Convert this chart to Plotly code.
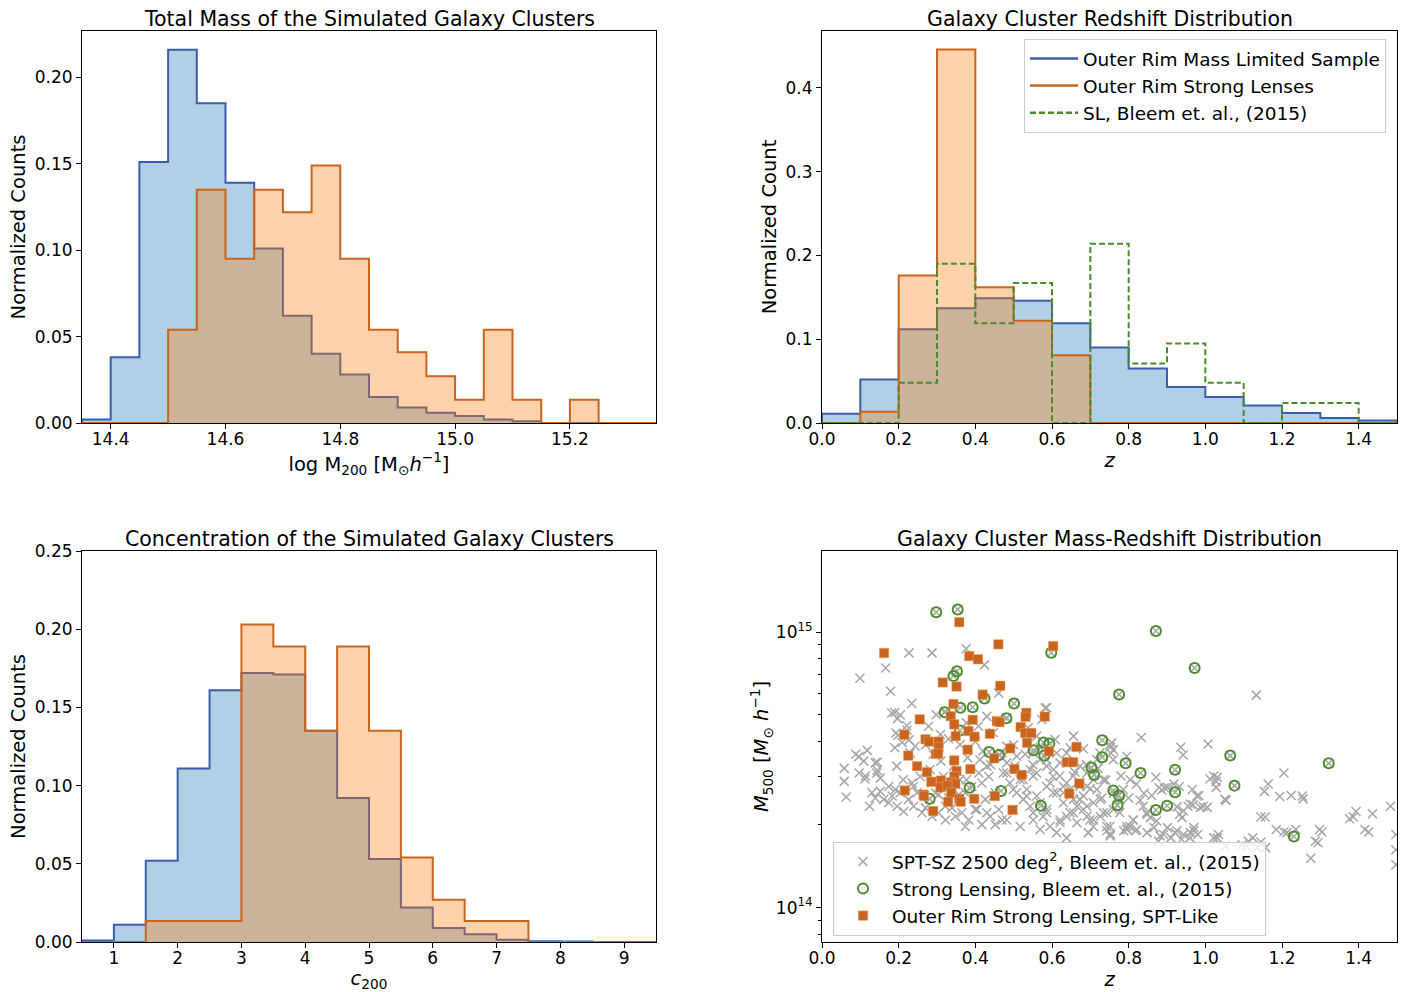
import plotly.graph_objects as go

# ---------------- data ----------------
mass_edges = [14.35, 14.40, 14.45, 14.50, 14.55, 14.60, 14.65, 14.70, 14.75, 14.80, 14.85,
              14.90, 14.95, 15.00, 15.05, 15.10, 15.15, 15.20, 15.25, 15.30, 15.35]
mass_outer_rim = [0.002, 0.038, 0.151, 0.216, 0.185, 0.139, 0.101, 0.062, 0.040, 0.028,
                  0.015, 0.009, 0.006, 0.004, 0.002, 0.001, 0.0, 0.0, 0.0, 0.0]
mass_strong = [0.0, 0.0, 0.0, 0.054, 0.135, 0.095, 0.135, 0.122, 0.149, 0.095,
               0.054, 0.041, 0.027, 0.0135, 0.054, 0.0135, 0.0, 0.0135, 0.0, 0.0]

z_edges = [0.0, 0.1, 0.2, 0.3, 0.4, 0.5, 0.6, 0.7, 0.8, 0.9, 1.0, 1.1, 1.2, 1.3, 1.4, 1.5]
z_outer_rim = [0.011, 0.052, 0.112, 0.137, 0.149, 0.146, 0.119, 0.090, 0.065, 0.043,
               0.031, 0.021, 0.012, 0.006, 0.003]
z_strong = [0.0, 0.0135, 0.176, 0.446, 0.162, 0.122, 0.081, 0.0, 0.0, 0.0, 0.0, 0.0, 0.0, 0.0, 0.0]
z_bleem = [0.0, 0.0, 0.048, 0.190, 0.119, 0.167, 0.0, 0.214, 0.071, 0.095, 0.048, 0.0, 0.024, 0.024, 0.0]

c_edges = [0.5, 1.0, 1.5, 2.0, 2.5, 3.0, 3.5, 4.0, 4.5, 5.0, 5.5, 6.0, 6.5, 7.0, 7.5, 8.0, 8.5, 9.0, 9.5]
c_outer_rim = [0.001, 0.011, 0.052, 0.111, 0.161, 0.172, 0.171, 0.135, 0.092, 0.053,
               0.022, 0.009, 0.005, 0.0015, 0.0005, 0.0003, 0.0, 0.0]
c_strong = [0.0, 0.0, 0.0135, 0.0135, 0.0135, 0.203, 0.189, 0.135, 0.189, 0.135,
            0.054, 0.027, 0.0135, 0.0135, 0.0, 0.0, 0.0, 0.0]

# SPT-SZ clusters (not strong lenses): redshift and M500 in 1e14 Msun/h
spt_z = [0.227, 0.287, 0.376, 0.424, 0.166, 0.099, 0.179, 0.234, 0.461, 0.582, 1.133,
         0.182, 0.190, 0.197, 0.204, 0.193, 0.190, 0.222, 0.227, 0.058, 0.058, 0.063, 0.088,
         0.096, 0.118, 0.097, 0.112, 0.144, 0.144, 0.152, 0.124, 0.198, 0.209, 0.243, 0.221,
         0.278, 0.298, 0.309, 0.321, 0.377, 0.408, 0.430, 0.482, 0.573, 0.586, 0.447, 0.469,
         0.608, 0.656, 0.195, 0.230, 0.317, 0.343, 0.360, 0.412, 0.430, 0.482, 0.503, 0.525,
         0.560, 0.586, 0.603, 0.638, 0.725, 0.751, 0.760, 0.804, 0.786, 0.603, 0.638, 0.447,
         0.404, 0.430, 0.212, 0.238, 0.204, 0.256, 0.282, 0.377, 0.391, 0.499, 0.534, 0.551,
         0.586, 0.621, 0.656, 0.691, 0.708, 0.734, 0.751, 0.777, 0.795, 0.812, 0.673, 0.691,
         0.708, 0.586, 0.621, 0.630, 0.656, 0.682, 0.756, 0.760, 0.647, 0.560, 0.538, 0.482,
         0.795,
         0.113, 0.109, 0.139, 0.143, 0.130, 0.152, 0.161, 0.174, 0.183, 0.196, 0.213, 0.226,
         0.235, 0.239, 0.248, 0.261, 0.270, 0.287, 0.296, 0.304, 0.322, 0.339, 0.348, 0.365,
         0.374, 0.383, 0.400, 0.409, 0.417, 0.426, 0.435, 0.439, 0.452, 0.461, 0.470, 0.374,
         0.417, 0.452, 0.174, 0.191, 0.139, 0.304, 0.330, 0.357, 0.287, 0.322,
         0.473, 0.490, 0.517, 0.534, 0.551, 0.560, 0.586, 0.595, 0.604, 0.612, 0.630, 0.638,
         0.647, 0.656, 0.665, 0.673, 0.682, 0.691, 0.699, 0.708, 0.717, 0.726, 0.743, 0.760,
         0.778, 0.795, 0.812, 0.821, 0.838, 0.847, 0.638, 0.569, 0.517, 0.499, 0.482, 0.551,
         0.595, 0.612, 0.752, 0.695, 0.569, 0.612, 0.551, 0.508, 0.482,
         0.525, 0.543, 0.577, 0.621, 0.647, 0.673, 0.682, 0.708, 0.726, 0.734, 0.743, 0.691,
         0.665, 0.630, 0.586, 0.569, 0.508, 0.543, 0.638, 0.673, 0.699, 0.717,
         0.27, 0.29, 0.31, 0.33, 0.36, 0.38, 0.40, 0.42, 0.44, 0.47, 0.50, 0.53, 0.55, 0.57,
         0.62, 0.66, 0.70, 0.72, 0.74, 0.76, 0.78, 0.80, 0.82, 0.84, 0.69, 0.73, 0.77, 0.83, 0.86,
         0.936, 0.942, 1.007, 1.205, 0.871, 0.886, 0.901, 0.932, 1.012, 1.031, 1.028, 1.054,
         0.983, 0.968, 0.987, 1.005, 1.154, 1.164, 1.194, 1.224, 1.255, 1.145, 1.156, 1.205,
         1.304, 1.294, 1.275, 1.376, 1.386, 1.436, 1.426, 1.483, 1.497, 1.497, 1.497, 1.031,
         1.053, 1.112, 1.145, 0.970, 0.960, 0.980, 0.970, 0.933, 0.939, 0.943, 0.873, 0.891,
         0.878, 0.926, 0.943, 0.961, 0.926,
         0.833, 0.752, 0.754, 0.918, 0.848, 0.857, 0.787, 0.796, 0.818, 0.743, 0.752, 0.866,
         0.901, 0.803, 0.848, 0.882, 0.910, 0.921, 0.938, 0.961, 1.022, 1.034, 1.096, 1.107,
         1.124, 1.135, 1.157, 1.185, 1.213, 1.236, 1.253, 1.287, 1.298, 1.393, 1.416, 1.022,
         1.028, 0.966, 0.879, 0.893, 0.955, 0.978, 0.994, 1.051]
spt_m = [8.4, 8.4, 8.7, 7.6, 7.4, 6.8, 6.1, 5.5, 6.0, 5.3, 5.9,
         5.08, 5.1, 4.85, 5.0, 4.3, 3.8, 4.4, 4.06, 3.2, 2.87, 2.52, 3.6,
         3.53, 3.72, 3.08, 2.93, 3.37, 3.15, 2.95, 2.33, 4.22, 3.97, 3.85, 4.57,
         4.55, 5.01, 4.25, 5.15, 4.68, 4.55, 4.94, 4.88, 4.81, 5.31, 4.31, 3.64,
         4.07, 4.19, 3.26, 3.64, 2.99, 3.26, 2.91, 3.44, 3.26, 3.08, 3.26, 2.91,
         3.08, 3.26, 2.99, 3.64, 3.64, 3.90, 3.44, 2.91, 2.68, 2.61, 2.83, 2.54,
         2.27, 2.21, 2.91, 2.75, 2.61, 2.99, 3.17, 2.91, 2.75, 2.68, 2.54, 2.21,
         2.21, 2.08, 2.21, 2.33, 2.08, 2.21, 1.97, 2.21, 1.97, 2.08, 2.75, 3.08,
         2.91, 3.44, 3.35, 2.61, 2.47, 3.77, 3.96, 3.74, 3.80, 4.19, 4.49, 3.85,
         3.54,
         3.00, 3.40, 3.35, 3.08, 2.61, 2.64, 2.47, 2.40, 2.54, 2.33, 2.23, 2.47,
         2.83, 2.33, 2.61, 2.21, 2.30, 2.83, 2.61, 2.21, 2.33, 2.30, 2.14, 2.21,
         2.61, 2.08, 2.27, 3.08, 2.83, 2.47, 2.99, 2.14, 2.61, 2.27, 2.08, 1.97,
         2.00, 2.00, 2.75, 2.68, 2.50, 2.57, 2.50, 2.57, 2.14, 2.08,
         3.08, 2.83, 2.91, 2.68, 3.00, 2.54, 2.27, 2.83, 3.17, 2.61, 2.40, 2.14,
         2.68, 3.00, 2.03, 2.47, 2.27, 2.75, 2.08, 2.40, 2.68, 2.14, 1.97, 2.27,
         2.47, 1.92, 2.08, 1.92, 2.33, 2.21, 1.79, 1.92, 1.97, 2.27, 2.08, 2.08,
         1.97, 1.87, 1.82, 1.87, 3.44, 3.64, 3.64, 3.54, 3.35,
         2.47, 2.33, 2.14, 2.03, 2.21, 2.83, 2.54, 1.97, 2.47, 2.91, 2.21, 2.14,
         2.33, 2.75, 2.75, 2.40, 2.61, 3.17, 3.35, 3.26, 3.17, 3.44,
         3.9, 3.6, 3.4, 4.1, 3.9, 3.5, 4.0, 3.7, 3.3, 3.5, 3.9, 3.6, 3.3, 3.8,
         3.0, 3.1, 2.7, 3.2, 2.9, 2.6, 3.0, 2.5, 2.8, 2.6, 3.3, 2.5, 2.35, 2.45, 2.55,
         3.82, 3.58, 3.92, 3.08, 2.97, 2.67, 2.73, 2.75, 2.93, 2.97, 2.73, 2.45,
         2.55, 2.36, 2.31, 2.31, 2.64, 2.81, 2.53, 2.55, 2.48, 2.13, 2.13, 1.88,
         1.88, 1.72, 1.51, 2.10, 2.13, 2.19, 1.88, 2.33, 1.84, 1.62, 1.43, 1.79,
         1.67, 1.74, 1.73, 1.90, 1.79, 1.84, 1.95, 2.18, 2.12, 2.24, 2.06, 1.84,
         1.74, 1.90, 1.84, 2.37, 2.32,
         4.14, 3.82, 3.63, 2.81, 2.18, 2.12, 1.90, 1.92, 1.90, 1.90, 1.85, 1.95,
         1.95, 1.97, 1.87, 1.82, 1.79, 1.87, 1.77, 1.87, 1.79, 1.84, 1.69, 1.67,
         1.79, 1.65, 1.65, 1.92, 1.87, 1.92, 2.54, 1.74, 1.92, 2.23, 1.92, 3.0,
         2.87, 2.68, 2.72, 2.72, 2.33, 2.54, 2.33, 2.47]

# Strong-lensing SPT-SZ clusters (Bleem et al. 2015)
sl_z = [0.298, 0.354, 0.871, 0.598, 0.972, 0.352, 0.343, 0.775, 0.424, 0.501, 0.320,
        0.361, 0.393, 0.481, 0.360, 0.578, 0.593, 0.436, 0.462, 0.552, 0.580, 0.731,
        0.731, 0.703, 0.710, 0.792, 0.831, 0.921, 0.921, 0.760, 0.775, 0.771, 0.871,
        0.900, 1.065, 1.076, 1.322, 1.231, 0.385, 0.467, 0.571, 0.281]
sl_m = [11.8, 12.08, 10.09, 8.41, 7.40, 7.21, 6.92, 5.93, 5.74, 5.50, 5.11,
        5.31, 5.33, 4.86, 4.39, 3.97, 3.94, 3.67, 3.58, 3.72, 3.56, 4.05,
        3.51, 3.22, 3.03, 3.34, 3.08, 3.16, 2.62, 2.66, 2.55, 2.35, 2.26,
        2.34, 3.56, 2.77, 3.34, 1.81, 2.72, 2.65, 2.34, 2.48]

# Outer Rim simulated strong lenses, SPT-like
or_z = [0.162, 0.358, 0.460, 0.603, 0.384, 0.407, 0.315, 0.351, 0.465, 0.419, 0.343,
        0.533, 0.531, 0.581, 0.255, 0.336, 0.393, 0.456, 0.463, 0.345, 0.518, 0.215,
        0.270, 0.279, 0.304, 0.304, 0.382, 0.398, 0.349, 0.438, 0.530, 0.546, 0.535,
        0.491, 0.380, 0.592, 0.664, 0.225, 0.297, 0.303, 0.345, 0.449, 0.639, 0.655,
        0.248, 0.274, 0.351, 0.387, 0.502, 0.521, 0.345, 0.310, 0.337, 0.348, 0.216,
        0.309, 0.327, 0.265, 0.266, 0.337, 0.671, 0.645, 0.451, 0.329, 0.358, 0.362,
        0.397, 0.290, 0.497, 0.285]
or_m = [8.39, 10.86, 9.02, 8.89, 8.18, 7.96, 6.56, 6.34, 6.38, 5.93, 5.48,
        5.09, 4.92, 4.93, 4.82, 4.95, 4.80, 4.75, 4.71, 4.62, 4.52, 4.24,
        4.08, 4.00, 4.00, 3.82, 4.37, 4.17, 4.19, 4.27, 4.30, 4.30, 3.96,
        3.78, 3.74, 3.69, 3.83, 3.56, 3.61, 3.62, 3.42, 3.48, 3.37, 3.37,
        3.26, 3.10, 3.13, 3.18, 3.18, 3.03, 2.99, 2.89, 2.85, 2.81, 2.66,
        2.73, 2.77, 2.57, 2.54, 2.61, 2.82, 2.59, 2.54, 2.42, 2.48, 2.42,
        2.48, 2.24, 2.26, 2.86]

# ---------------- styles ----------------
FONT = "DejaVu Sans"
BLUE_EDGE = "#3d5da8"
BLUE_FILL = "rgba(31,119,180,0.35)"
OR_EDGE = "#c9651f"
OR_FILL = "rgba(255,127,14,0.35)"
GREEN = "#4a8c2a"
GRAY = "#a6a6a6"

XD_L = [82 / 1416, 656 / 1416]
XD_R = [822 / 1416, 1397 / 1416]
YD_T = [1 - 423 / 992, 1 - 31 / 992]
YD_B = [1 - 942 / 992, 1 - 551 / 992]


def step_outline(edges, vals):
    xs, ys = [edges[0]], [0.0]
    for i, v in enumerate(vals):
        xs += [edges[i], edges[i + 1]]
        ys += [v, v]
    xs.append(edges[-1])
    ys.append(0.0)
    return xs, ys


fig = go.Figure()


def add_hist(edges, vals, xa, ya, edge, fill, dash=None, filled=True):
    xs, ys = step_outline(edges, vals)
    fig.add_trace(go.Scatter(x=xs, y=ys, xaxis=xa, yaxis=ya, mode="lines",
                             fill="toself" if filled else "none",
                             fillcolor=fill if filled else None,
                             line=dict(color=edge, width=2, dash=dash),
                             showlegend=False, hoverinfo="skip"))


add_hist(mass_edges, mass_outer_rim, "x", "y", BLUE_EDGE, BLUE_FILL)
add_hist(mass_edges, mass_strong, "x", "y", OR_EDGE, OR_FILL)

add_hist(z_edges, z_outer_rim, "x2", "y2", BLUE_EDGE, BLUE_FILL)
add_hist(z_edges, z_strong, "x2", "y2", OR_EDGE, OR_FILL)
add_hist(z_edges, z_bleem, "x2", "y2", GREEN, None, dash="6px,3px", filled=False)

add_hist(c_edges, c_outer_rim, "x3", "y3", BLUE_EDGE, BLUE_FILL)
add_hist(c_edges, c_strong, "x3", "y3", OR_EDGE, OR_FILL)

# legend entries for the redshift panel
for name, col, dash in [("Outer Rim Mass Limited Sample", BLUE_EDGE, None),
                        ("Outer Rim Strong Lenses", OR_EDGE, None),
                        ("SL, Bleem et. al., (2015)", GREEN, "6px,3px")]:
    fig.add_trace(go.Scatter(x=[None], y=[None], xaxis="x2", yaxis="y2", mode="lines",
                             name=name, line=dict(color=col, width=2.5, dash=dash),
                             legend="legend"))

# scatter panel
all_spt_z = spt_z + sl_z
all_spt_m = spt_m + sl_m
fig.add_trace(go.Scatter(x=all_spt_z, y=[m * 1e14 for m in all_spt_m], xaxis="x4", yaxis="y4",
                         mode="markers", name="SPT-SZ 2500 deg<sup>2</sup>, Bleem et. al., (2015)",
                         marker=dict(symbol="x-thin", size=9, line=dict(color=GRAY, width=1.5),
                                     color=GRAY),
                         legend="legend2"))
fig.add_trace(go.Scatter(x=sl_z, y=[m * 1e14 for m in sl_m], xaxis="x4", yaxis="y4",
                         mode="markers", name="Strong Lensing, Bleem et. al., (2015)",
                         marker=dict(symbol="circle-open", size=10, color=GREEN,
                                     line=dict(color=GREEN, width=2)),
                         legend="legend2"))
fig.add_trace(go.Scatter(x=or_z, y=[m * 1e14 for m in or_m], xaxis="x4", yaxis="y4",
                         mode="markers", name="Outer Rim Strong Lensing, SPT-Like",
                         marker=dict(symbol="square", size=9.5, color=OR_EDGE,
                                     line=dict(color="rgba(240,170,120,0.8)", width=0.6)),
                         legend="legend2"))

axis_common = dict(showline=True, linecolor="black", linewidth=1, mirror=True,
                   ticks="outside", ticklen=5, tickwidth=1, tickcolor="black",
                   showgrid=False, zeroline=False, automargin=False,
                   tickfont=dict(family=FONT, size=17, color="black"))
xaxis_common = dict(axis_common, ticklabelstandoff=-4)
title_font = dict(family=FONT, size=19.5, color="black")

fig.update_layout(
    width=1416, height=992, margin=dict(l=0, r=0, t=0, b=0, autoexpand=False),
    paper_bgcolor="white", plot_bgcolor="white",
    font=dict(family=FONT, color="black"),
    xaxis=dict(xaxis_common, domain=XD_L, anchor="y", range=[14.35, 15.35],
               tick0=14.4, dtick=0.2, tickformat=".1f",
               title=dict(text="log M<sub>200</sub> [M<sub>⊙</sub><i>h</i><sup>−1</sup>]",
                          font=title_font, standoff=2)),
    yaxis=dict(axis_common, domain=YD_T, anchor="x", range=[0, 0.2268],
               tick0=0, dtick=0.05, tickformat=".2f",
               title=dict(text="Normalized Counts", font=title_font, standoff=3)),
    xaxis2=dict(xaxis_common, domain=XD_R, anchor="y2", range=[0, 1.5],
                tick0=0, dtick=0.2, tickformat=".1f",
                title=dict(text="<i>z</i>", font=title_font, standoff=2)),
    yaxis2=dict(axis_common, domain=YD_T, anchor="x2", range=[0, 0.468],
                tick0=0, dtick=0.1, tickformat=".1f",
                title=dict(text="Normalized Count", font=title_font, standoff=3)),
    xaxis3=dict(xaxis_common, domain=XD_L, anchor="y3", range=[0.5, 9.5],
                tick0=1, dtick=1,
                title=dict(text="<i>c</i><sub>200</sub>", font=title_font, standoff=2)),
    yaxis3=dict(axis_common, domain=YD_B, anchor="x3", range=[0, 0.25],
                tick0=0, dtick=0.05, tickformat=".2f",
                title=dict(text="Normalized Counts", font=title_font, standoff=3)),
    xaxis4=dict(xaxis_common, domain=XD_R, anchor="y4", range=[0, 1.5],
                tick0=0, dtick=0.2, tickformat=".1f",
                title=dict(text="<i>z</i>", font=title_font, standoff=2)),
    yaxis4=dict(axis_common, domain=YD_B, anchor="x4", type="log",
                range=[13.875, 15.294],
                tickvals=[1e14, 1e15], ticktext=["10<sup>14</sup>", "10<sup>15</sup>"],
                minor=dict(ticks="outside", ticklen=3, tickcolor="black",
                           tickvals=[8e13, 9e13, 2e14, 3e14, 4e14, 5e14, 6e14, 7e14, 8e14,
                                     9e14]),
                title=dict(text="<i>M</i><sub>500</sub> [<i>M</i><sub>⊙</sub> <i>h</i><sup>−1</sup>]",
                           font=title_font, standoff=1)),
    legend=dict(x=1024 / 1416, y=1 - 39 / 992, xanchor="left", yanchor="top",
                font=dict(family=FONT, size=18.5, color="black"),
                bgcolor="rgba(255,255,255,0.8)", bordercolor="#cccccc", borderwidth=1,
                tracegroupgap=0, itemwidth=48),
    legend2=dict(x=833 / 1416, y=1 - 842 / 992, xanchor="left", yanchor="top",
                 font=dict(family=FONT, size=18.5, color="black"),
                 bgcolor="rgba(255,255,255,0.8)", bordercolor="#cccccc", borderwidth=1,
                 tracegroupgap=0, itemwidth=48),
)

titles = [("Total Mass of the Simulated Galaxy Clusters", XD_L, YD_T),
          ("Galaxy Cluster Redshift Distribution", XD_R, YD_T),
          ("Concentration of the Simulated Galaxy Clusters", XD_L, YD_B),
          ("Galaxy Cluster Mass-Redshift Distribution", XD_R, YD_B)]
for text, xd, yd in titles:
    fig.add_annotation(text=text, x=(xd[0] + xd[1]) / 2, y=yd[1], xref="paper", yref="paper",
                       xanchor="center", yanchor="bottom", yshift=-2, showarrow=False,
                       font=dict(family=FONT, size=20.5, color="black"))

fig.write_html("out.html")
